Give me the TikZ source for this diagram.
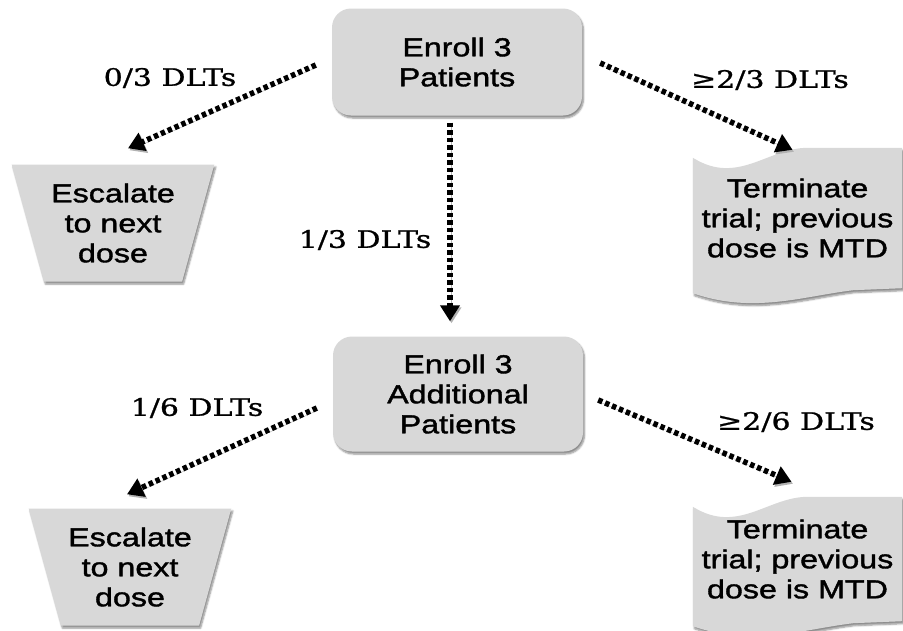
\documentclass[tikz,border=0pt]{standalone}
\usepackage{fontspec}
\usepackage{tikz}
\usetikzlibrary{positioning,arrows.meta,shapes,shadows.blur,calc,backgrounds}
\newfontfamily\boxfont[FakeStretch=1.24,FakeBold=1.5]{Liberation Sans}
\newfontfamily\dltfont[FakeStretch=1.25,FakeBold=1]{DejaVu Serif}
\definecolor{boxgray}{RGB}{216,216,216}
\begin{document}
\begin{tikzpicture}[x=1pt,y=-1pt,
    boxshadow/.style={blur shadow={shadow xshift=1.5pt,shadow yshift=-2.5pt,shadow blur steps=6,shadow opacity=45}},
    boxtext/.style={align=center,font=\boxfont\fontsize{26}{30}\selectfont},
    enroll/.style={shape=rectangle,rounded corners=19pt,fill=boxgray,boxshadow,minimum width=250pt,boxtext},
    escalate/.style={shape=trapezium,shape border rotate=180,trapezium stretches=true,trapezium left angle=70,trapezium right angle=70,fill=boxgray,boxshadow,minimum width=203pt,minimum height=117pt,inner sep=0pt,boxtext},
    terminate/.style={shape=rectangle,minimum width=209pt,inner sep=0pt,boxtext},
    dlt/.style={font=\dltfont\fontsize{24}{28}\selectfont},
    dotarrow/.style={line width=5.5pt,dash pattern=on 4.5pt off 3pt,-{Triangle[width=19pt,length=16pt]},preaction={draw=black!30,transform canvas={shift={(1.5pt,-2pt)}}}}]
    \useasboundingbox (0,0) rectangle (903,630);
    \node[enroll,minimum height=107pt] (enrollA) at (457,62) {Enroll 3\\Patients};
    \node[enroll,minimum height=115pt] (enrollB) at (458,394) {Enroll 3\\Additional\\Patients};
    \node[escalate] (escA) at (113,223) {Escalate\\to next\\dose};
    \node[escalate] (escB) at (130,567) {Escalate\\to next\\dose};
    \node[terminate,minimum height=140pt] (termA) at (797.5,218) {Terminate\\trial; previous\\dose is MTD};
    \node[terminate,minimum height=124pt] (termB) at (797.5,559) {Terminate\\trial; previous\\dose is MTD};
    \begin{scope}[on background layer]
        \foreach \t in {termA,termB}
            \fill[boxgray,boxshadow] ($(\t.north west)+(0,10)$) .. controls ($(\t.north west)+(45,38)$) and ($(\t.north west)+(75,0)$) .. ($(\t.north west)+(115,0)$) -- (\t.north east) -- (\t.south east) -- ($(\t.south east)+(-49,2)$) .. controls ($(\t.south west)+(110,8)$) and ($(\t.south west)+(60,26)$) .. ($(\t.south west)+(0,5)$) -- cycle;
    \end{scope}
    \node[dlt] (lblA) at (170,78) {0/3 DLTs};
    \node[dlt] (lblB) at (770,80) {≥2/3 DLTs};
    \node[dlt] (lblC) at (365,240) {1/3 DLTs};
    \node[dlt] (lblD) at (197,408) {1/6 DLTs};
    \node[dlt] (lblE) at (796,422) {≥2/6 DLTs};
    \draw[dotarrow] ([shift={(-16,3)}]enrollA.west) -- ([shift={(15,-16)}]escA.north);
    \draw[dotarrow] ([shift={(18,1)}]enrollA.east) -- ([shift={(-5,2)}]termA.north);
    \draw[dotarrow] ([shift={(-7,7)}]enrollA.south) -- ([shift={(-8,-15)}]enrollB.north);
    \draw[dotarrow] ([shift={(-16,14)}]enrollB.west) -- ([shift={(-3,-14)}]escB.north);
    \draw[dotarrow] ([shift={(15,6)}]enrollB.east) -- ([shift={(-6,-15)}]termB.north);
\end{tikzpicture}
\end{document}
